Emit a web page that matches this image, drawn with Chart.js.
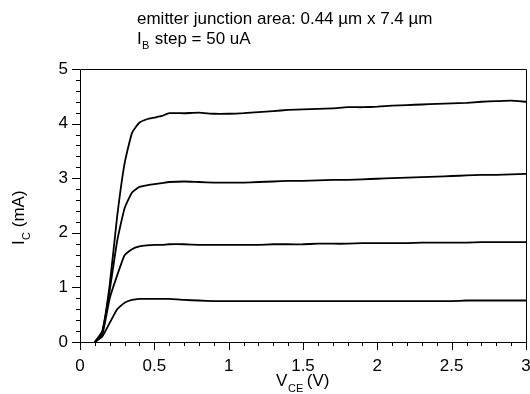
<!DOCTYPE html>
<html>
<head>
<meta charset="utf-8">
<script src="https://cdn.jsdelivr.net/npm/chart.js@4/dist/chart.umd.min.js"></script>
<style>
  body { margin: 0; background: #fff; }
  #wrap { width: 530px; height: 394px; }
</style>
</head>
<body>
<div id="wrap"><canvas id="myChart" width="530" height="394"></canvas></div>
<script>
// V_CE (V) sample points for each curve
const vceRise = [0.10, 0.15, 0.20, 0.25, 0.30, 0.35, 0.40, 0.45, 0.50, 0.55, 0.60];
const vceFlat = [0.7, 0.8, 0.9, 1.0, 1.1, 1.2, 1.3, 1.4, 1.5, 1.6, 1.7, 1.8, 1.9, 2.0, 2.1, 2.2, 2.3, 2.4, 2.5, 2.6, 2.7, 2.8, 2.9, 3.0];

// I_C (mA), one array per base-current step
const ic1 = [0, 0.10, 0.35, 0.60, 0.72, 0.77, 0.79, 0.79, 0.79, 0.79, 0.79,
  0.77, 0.76, 0.75, 0.75, 0.75, 0.75, 0.75, 0.75, 0.75, 0.75, 0.75, 0.75, 0.75, 0.75, 0.75, 0.75, 0.75, 0.75, 0.75, 0.76, 0.76, 0.76, 0.76, 0.76];
const ic2 = [0, 0.14, 0.80, 1.22, 1.59, 1.70, 1.75, 1.77, 1.78, 1.78, 1.79,
  1.79, 1.78, 1.78, 1.78, 1.78, 1.78, 1.79, 1.79, 1.79, 1.80, 1.80, 1.80, 1.81, 1.81, 1.81, 1.81, 1.82, 1.82, 1.82, 1.82, 1.83, 1.83, 1.83, 1.83];
const ic3 = [0, 0.17, 0.95, 1.85, 2.45, 2.74, 2.84, 2.87, 2.89, 2.91, 2.93,
  2.94, 2.93, 2.92, 2.92, 2.92, 2.93, 2.94, 2.95, 2.95, 2.96, 2.97, 2.97, 2.98, 2.99, 3.00, 3.01, 3.02, 3.03, 3.04, 3.05, 3.06, 3.06, 3.07, 3.08];
const ic4 = [0, 0.20, 1.05, 2.30, 3.27, 3.83, 4.02, 4.08, 4.11, 4.14, 4.19,
  4.19, 4.20, 4.18, 4.18, 4.19, 4.21, 4.23, 4.25, 4.26, 4.27, 4.28, 4.30, 4.30, 4.31, 4.33, 4.34, 4.35, 4.36, 4.37, 4.38, 4.40, 4.41, 4.42, 4.40];

const curves = [ic1, ic2, ic3, ic4];

const xMajor = [0, 0.5, 1, 1.5, 2, 2.5, 3];
const xTickLabels = ['0', '0.5', '1', '1.5', '2', '2.5', '3'];
const yMajor = [0, 1, 2, 3, 4, 5];
const yTickLabels = ['0', '1', '2', '3', '4', '5'];

const vce = vceRise.concat(vceFlat);
const FONT = 'Arial, "Liberation Sans", sans-serif';
const BIG = '17px ' + FONT;
const SUB = '11px ' + FONT;

const datasets = curves.map(ic => ({
  data: vce.map((v, i) => ({ x: v, y: ic[i] })),
  borderColor: '#000',
  borderWidth: 1.8,
  pointRadius: 0,
  fill: false,
  tension: 0.15
}));

// axes frame, ticks, labels and title
const axesPlugin = {
  id: 'axesPlugin',
  afterDraw(chart) {
    const c = chart.ctx;
    const a = chart.chartArea;
    const xs = chart.scales.x, ys = chart.scales.y;
    c.save();
    c.strokeStyle = '#000';
    c.lineWidth = 1;
    c.beginPath();
    c.rect(Math.round(a.left) + 0.5, Math.round(a.top) + 0.5, Math.round(a.right - a.left), Math.round(a.bottom - a.top));
    c.stroke();

    // x ticks
    c.beginPath();
    for (let k = 0; k <= 30; k++) {
      const px = Math.round(xs.getPixelForValue(k / 10)) + 0.5;
      const len = (k % 5 === 0) ? 8 : 4;
      c.moveTo(px, a.bottom);
      c.lineTo(px, a.bottom + len);
    }
    // y ticks
    for (let k = 0; k <= 25; k++) {
      const py = Math.round(ys.getPixelForValue(k / 5)) + 0.5;
      const len = (k % 5 === 0) ? 8 : 4;
      c.moveTo(a.left, py);
      c.lineTo(a.left - len, py);
    }
    c.stroke();

    c.fillStyle = '#000';
    c.font = BIG;
    c.textAlign = 'center';
    c.textBaseline = 'middle';
    xMajor.forEach((v, i) => c.fillText(xTickLabels[i], xs.getPixelForValue(v), a.bottom + 24));
    c.textAlign = 'right';
    yMajor.forEach((v, i) => c.fillText(yTickLabels[i], a.left - 12, ys.getPixelForValue(v)));

    // title lines
    c.textAlign = 'left';
    c.textBaseline = 'alphabetic';
    c.font = BIG;
    c.fillText('emitter junction area: 0.44 \u00b5m x 7.4 \u00b5m', 137, 24);
    c.fillText('I', 137, 44);
    c.font = SUB;
    c.fillText('B', 142, 49);
    c.font = BIG;
    c.fillText(' step = 50 uA', 150, 44);

    // x axis title
    const xt = 276;
    c.fillText('V', xt, 386);
    c.font = SUB;
    c.fillText('CE', xt + 12, 392);
    c.font = BIG;
    c.fillText(' (V)', xt + 26, 386);

    // y axis title
    c.translate(24, 212);
    c.rotate(-Math.PI / 2);
    c.fillText('I', -33, 0);
    c.font = SUB;
    c.fillText('C', -28, 6);
    c.font = BIG;
    c.fillText(' (mA)', -20, 0);
    c.restore();
  }
};

const ctx = document.getElementById('myChart').getContext('2d');
window.ivChart = new Chart(ctx, {
  type: 'line',
  data: { datasets: datasets },
  options: {
    responsive: false,
    animation: false,
    layout: { padding: { left: 80, right: 4, top: 69, bottom: 52 } },
    plugins: { legend: { display: false }, tooltip: { enabled: false } },
    scales: {
      x: { type: 'linear', min: 0, max: 3, display: false },
      y: { type: 'linear', min: 0, max: 5, display: false }
    }
  },
  plugins: [axesPlugin]
});
</script>
</body>
</html>
